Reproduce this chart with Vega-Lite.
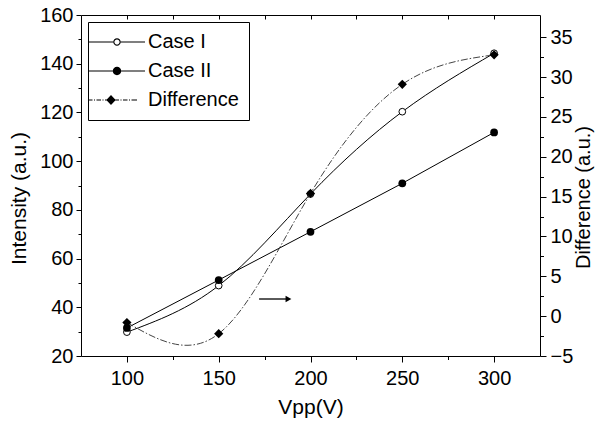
{
  "$schema": "https://vega.github.io/schema/vega-lite/v6.json",
  "width": 459,
  "height": 341,
  "autosize": "none",
  "padding": {"left": 81, "top": 15, "right": 57, "bottom": 70},
  "background": "white",
  "config": {
    "view": {"stroke": "black", "strokeWidth": 1},
    "axis": {
      "grid": false,
      "domain": false,
      "tickColor": "black",
      "tickWidth": 1,
      "labelColor": "black",
      "titleColor": "black",
      "labelFont": "Liberation Sans",
      "titleFont": "Liberation Sans",
      "labelFontSize": 20,
      "titleFontSize": 21,
      "titleFontWeight": "normal"
    }
  },
  "datasets": {
    "main": [
      {"vpp": 100, "caseI": 29.8, "caseII": 31.5, "diff": -0.8},
      {"vpp": 150, "caseI": 48.9, "caseII": 51.2, "diff": -2.2},
      {"vpp": 200, "caseI": 86.5, "caseII": 71.0, "diff": 15.4},
      {"vpp": 250, "caseI": 120.3, "caseII": 90.9, "diff": 29.1},
      {"vpp": 300, "caseI": 144.3, "caseII": 111.8, "diff": 32.8}
    ],
    "arrow": [{"x": 172, "x2": 188, "y": 43.4}],
    "series": [{"series": "Case I"}, {"series": "Case II"}, {"series": "Difference"}]
  },
  "resolve": {"scale": {"y": "independent"}, "axis": {"x": "independent", "y": "independent"}},
  "layer": [
    {
      "data": {"name": "main"},
      "mark": {"type": "line", "interpolate": "natural", "color": "black", "strokeWidth": 1},
      "encoding": {
        "x": {"field": "vpp", "type": "quantitative", "scale": {"domain": [75, 325], "nice": false},
              "axis": {"orient": "bottom", "values": [100, 125, 150, 175, 200, 225, 250, 275, 300],
                       "labelExpr": "datum.value % 50 === 0 ? datum.label : ''",
                       "tickSize": {"condition": {"test": "datum.value % 50 === 0", "value": 6}, "value": 3.5},
                       "labelPadding": 6, "title": "Vpp(V)", "titlePadding": 8}},
        "y": {"field": "caseI", "type": "quantitative", "scale": {"domain": [20, 160], "nice": false, "zero": false},
              "axis": {"orient": "left", "values": [20, 30, 40, 50, 60, 70, 80, 90, 100, 110, 120, 130, 140, 150, 160],
                       "labelExpr": "datum.value % 20 === 0 ? datum.label : ''",
                       "tickSize": {"condition": {"test": "datum.value % 20 === 0", "value": 5}, "value": 3},
                       "labelPadding": 3, "title": "Intensity (a.u.)", "titlePadding": 10, "titleY": 183}}
      }
    },
    {
      "data": {"name": "main"},
      "mark": {"type": "line", "interpolate": "linear", "color": "black", "strokeWidth": 1},
      "encoding": {
        "x": {"field": "vpp", "type": "quantitative", "scale": {"domain": [75, 325], "nice": false}, "axis": null},
        "y": {"field": "caseII", "type": "quantitative", "scale": {"domain": [20, 160], "nice": false, "zero": false}, "axis": null}
      }
    },
    {
      "data": {"name": "arrow"},
      "mark": {"type": "rule", "color": "black", "strokeWidth": 1.3},
      "encoding": {
        "x": {"field": "x", "type": "quantitative", "scale": {"domain": [75, 325], "nice": false}, "axis": null},
        "x2": {"field": "x2"},
        "y": {"field": "y", "type": "quantitative", "scale": {"domain": [20, 160], "nice": false, "zero": false}, "axis": null}
      }
    },
    {
      "data": {"name": "arrow"},
      "mark": {"type": "point", "shape": "triangle-right", "filled": true, "color": "black", "size": 45, "opacity": 1},
      "encoding": {
        "x": {"field": "x2", "type": "quantitative", "scale": {"domain": [75, 325], "nice": false}, "axis": null},
        "y": {"field": "y", "type": "quantitative", "scale": {"domain": [20, 160], "nice": false, "zero": false}, "axis": null}
      }
    },
    {
      "data": {"name": "main"},
      "mark": {"type": "line", "interpolate": "natural", "color": "#444444", "strokeWidth": 1, "strokeDash": [7, 2, 1.5, 2]},
      "encoding": {
        "x": {"field": "vpp", "type": "quantitative", "scale": {"domain": [75, 325], "nice": false}, "axis": null},
        "y": {"field": "diff", "type": "quantitative", "scale": {"domain": [-5, 37.8], "nice": false, "zero": false},
              "axis": {"orient": "right", "values": [-5, -2.5, 0, 2.5, 5, 7.5, 10, 12.5, 15, 17.5, 20, 22.5, 25, 27.5, 30, 32.5, 35],
                       "labelExpr": "datum.value % 5 === 0 ? datum.label : ''",
                       "tickSize": {"condition": {"test": "datum.value % 5 === 0", "value": 6}, "value": 3.5},
                       "labelPadding": 4, "title": "Difference (a.u.)", "titleFontSize": 20, "titleAngle": 270, "titleBaseline": "top", "titlePadding": 1, "titleY": 182}}
      }
    },
    {
      "data": {"name": "main"},
      "mark": {"type": "point", "shape": "circle", "filled": false, "fill": "white", "stroke": "black", "strokeWidth": 1, "size": 45, "opacity": 1},
      "encoding": {
        "x": {"field": "vpp", "type": "quantitative", "scale": {"domain": [75, 325], "nice": false}, "axis": null},
        "y": {"field": "caseI", "type": "quantitative", "scale": {"domain": [20, 160], "nice": false, "zero": false}, "axis": null}
      }
    },
    {
      "data": {"name": "main"},
      "mark": {"type": "point", "shape": "circle", "filled": true, "color": "black", "size": 60, "opacity": 1},
      "encoding": {
        "x": {"field": "vpp", "type": "quantitative", "scale": {"domain": [75, 325], "nice": false}, "axis": null},
        "y": {"field": "caseII", "type": "quantitative", "scale": {"domain": [20, 160], "nice": false, "zero": false}, "axis": null}
      }
    },
    {
      "data": {"name": "main"},
      "mark": {"type": "point", "shape": "diamond", "filled": true, "color": "black", "size": 85, "opacity": 1},
      "encoding": {
        "x": {"field": "vpp", "type": "quantitative", "scale": {"domain": [75, 325], "nice": false}, "axis": null},
        "y": {"field": "diff", "type": "quantitative", "scale": {"domain": [-5, 37.8], "nice": false, "zero": false}, "axis": null}
      }
    },
    {
      "data": {"name": "main"},
      "transform": [{"filter": "false"}],
      "mark": {"type": "point"},
      "encoding": {
        "x": {"field": "vpp", "type": "quantitative", "scale": {"domain": [75, 325], "nice": false},
              "axis": {"orient": "top", "values": [100, 125, 150, 175, 200, 225, 250, 275, 300],
                       "tickSize": 4, "offset": -4, "labels": false, "title": null}}
      }
    },
    {
      "data": {"name": "series"},
      "transform": [{"filter": "false"}],
      "mark": {"type": "point", "filled": true, "color": "black", "size": 400, "opacity": 1},
      "encoding": {
        "shape": {
          "field": "series", "type": "nominal",
          "scale": {
            "domain": ["Case I", "Case II", "Difference"],
            "range": [
              "M-2,-0.05H0.53V0.05H-2Z M1.27,-0.05H3.7V0.05H1.27Z M1.27,0A0.37,0.37 0 1,1 0.53,0A0.37,0.37 0 1,1 1.27,0Z M1.16,0A0.26,0.26 0 1,0 0.64,0A0.26,0.26 0 1,0 1.16,0Z",
              "M-2,-0.05H3.7V0.05H-2Z M1.32,0A0.42,0.42 0 1,1 0.48,0A0.42,0.42 0 1,1 1.32,0Z",
              "M-2,-0.05H-1.55V0.05H-2Z M-1.4,-0.05H-1.3V0.05H-1.4Z M-1.15,-0.05H-0.7V0.05H-1.15Z M-0.55,-0.05H-0.45V0.05H-0.55Z M-0.3,-0.05H1.1V0.05H-0.3Z M1.25,-0.05H1.35V0.05H1.25Z M1.5,-0.05H1.95V0.05H1.5Z M2.1,-0.05H2.2V0.05H2.1Z M2.35,-0.05H2.9V0.05H2.35Z M0.3,-0.5L0.77,0L0.3,0.5L-0.17,0Z"
            ]
          },
          "legend": {
            "title": null,
            "orient": "top-left",
            "offset": 7,
            "padding": 10,
            "strokeColor": "black",
            "fillColor": "white",
            "symbolSize": 400,
            "symbolStrokeWidth": 0,
            "symbolFillColor": "black",
            "symbolOpacity": 1,
            "labelOffset": 30,
            "rowPadding": 9,
            "labelFont": "Liberation Sans",
            "labelFontSize": 20,
            "labelColor": "black",
            "cornerRadius": 0
          }
        }
      }
    }
  ]
}
